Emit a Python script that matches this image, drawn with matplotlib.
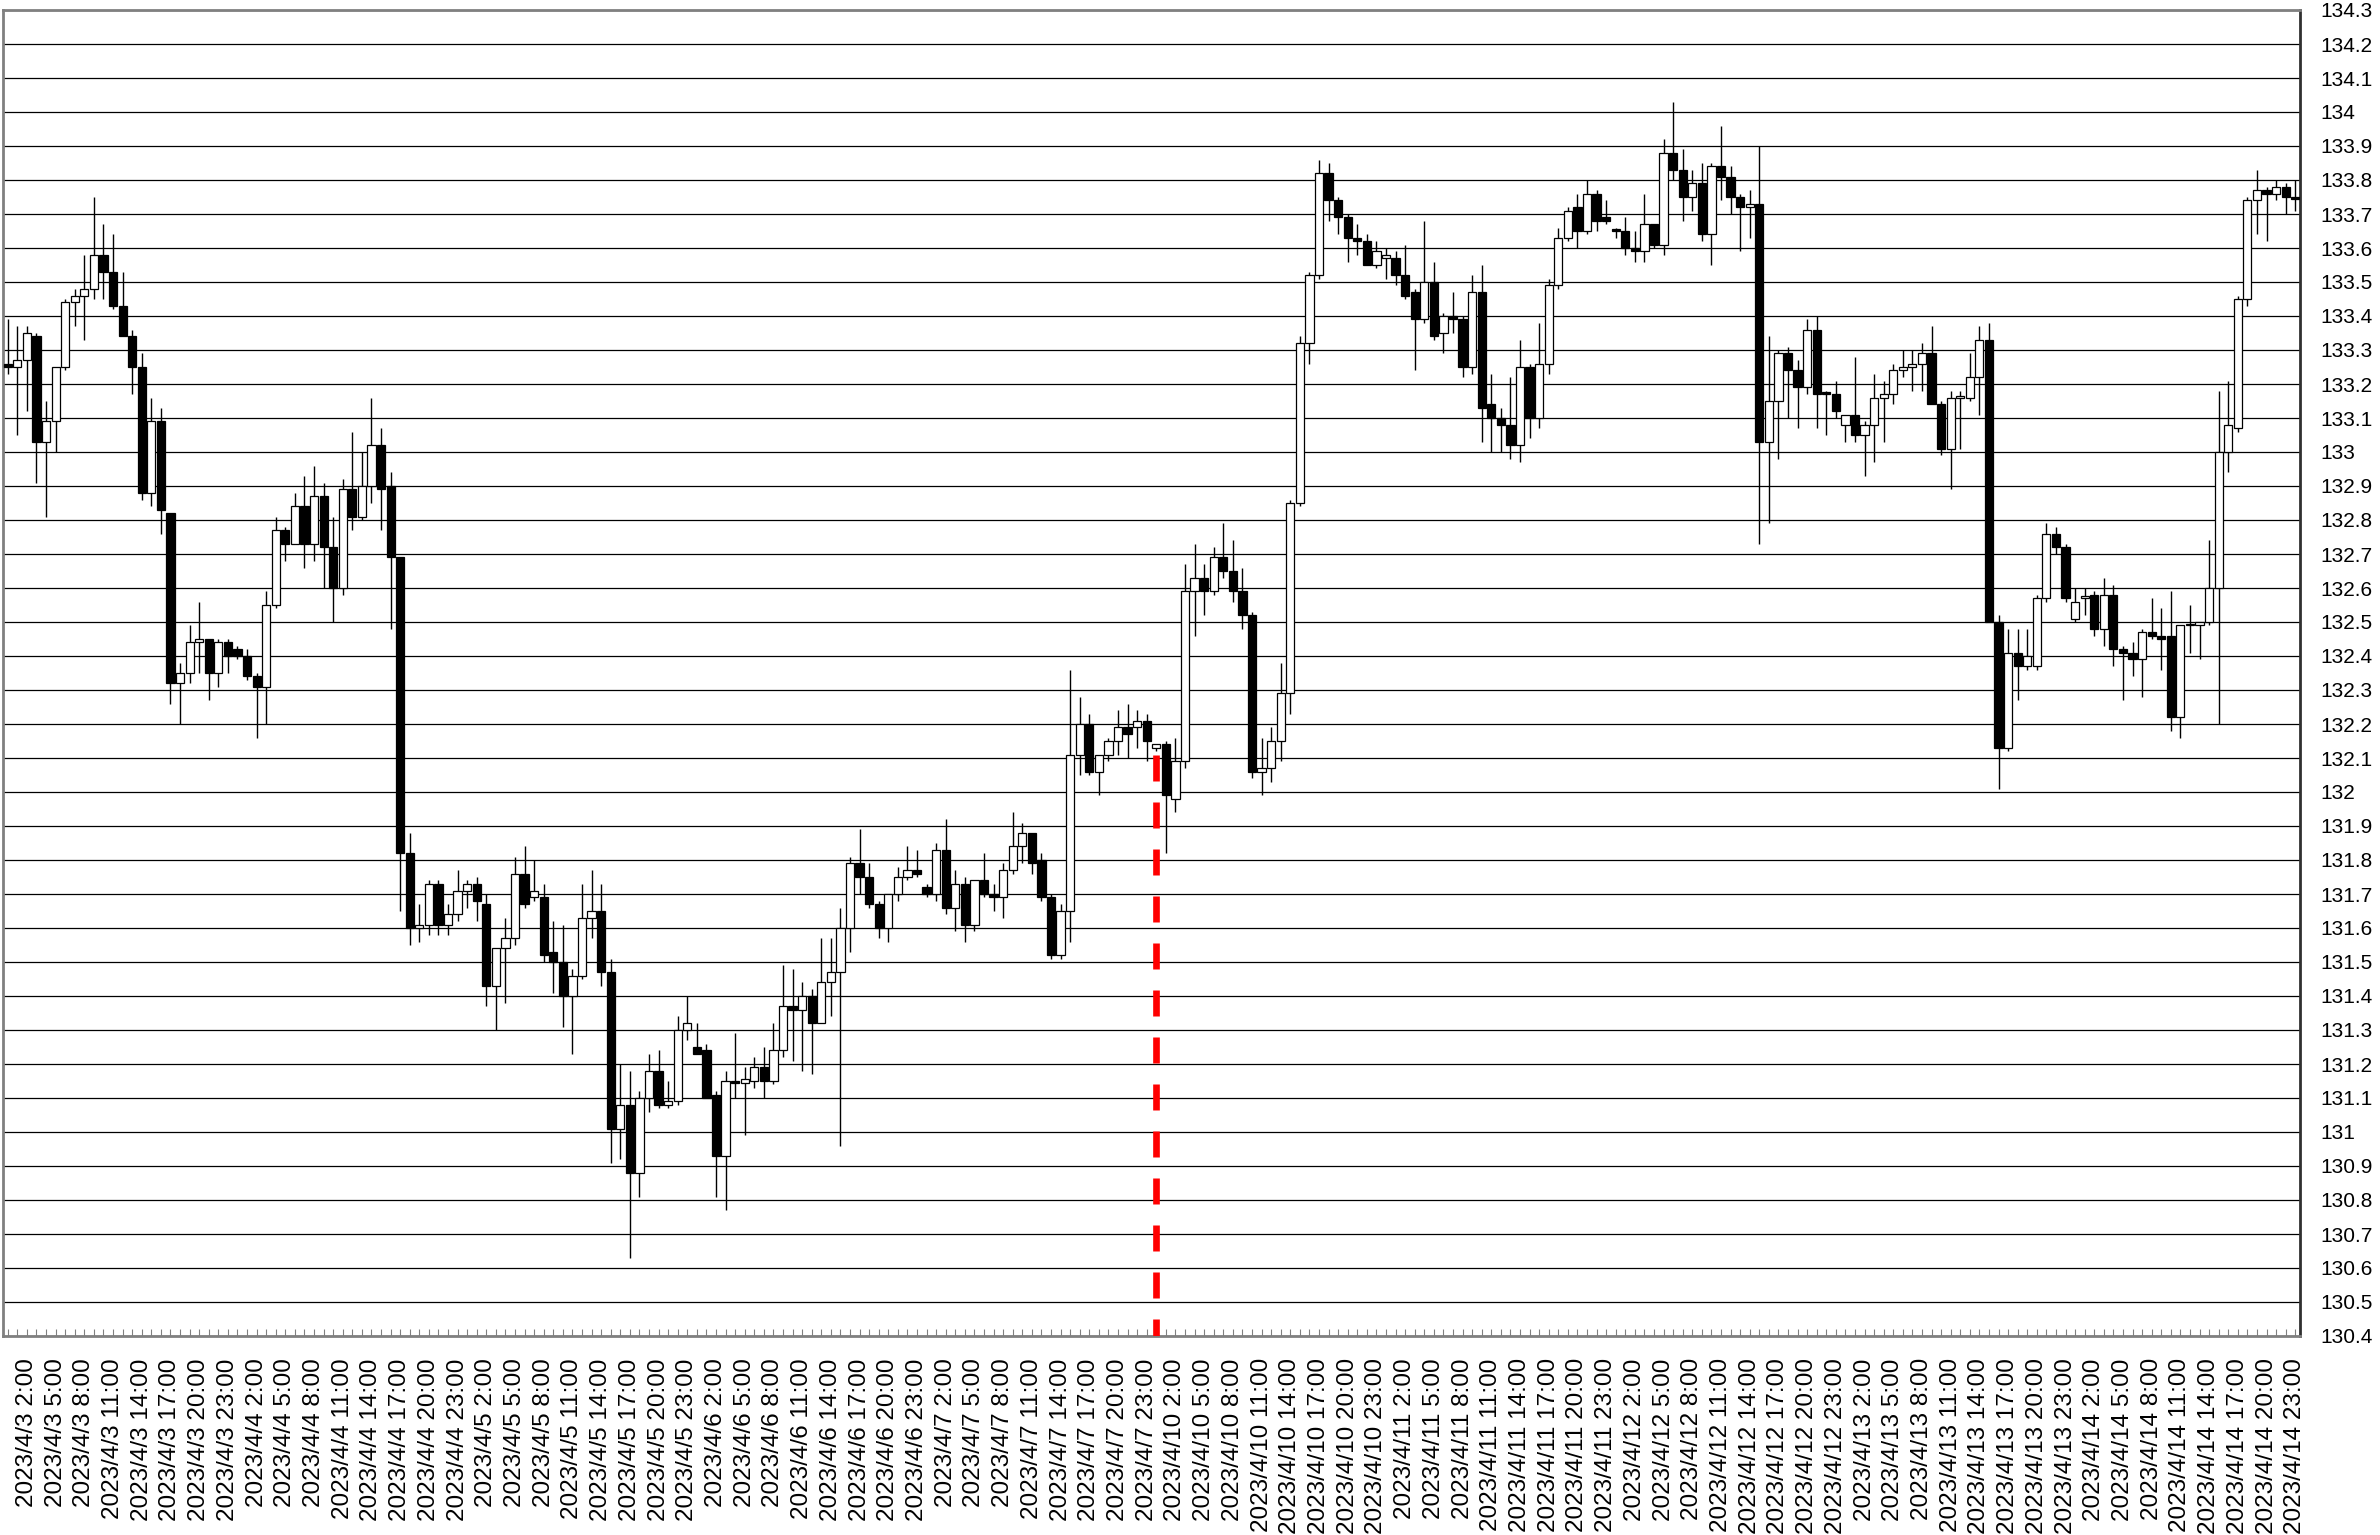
import matplotlib
matplotlib.use('Agg')
import matplotlib.pyplot as plt
import numpy as np

plt.rcParams['font.family'] = ['Liberation Sans', 'DejaVu Sans']

# hourly USD/JPY candles, 2023/4/3 0:00 .. 2023/4/14 23:00 (weekdays only)
days = ['2023/4/3', '2023/4/4', '2023/4/5', '2023/4/6', '2023/4/7',
        '2023/4/10', '2023/4/11', '2023/4/12', '2023/4/13', '2023/4/14']
hours = list(range(24))

opens = [133.26, 133.25, 133.27, 133.34, 133.03, 133.09, 133.25, 133.44, 133.46, 133.48,
         133.58, 133.53, 133.43, 133.34, 133.25, 132.88, 133.09, 132.82, 132.32, 132.35,
         132.44, 132.45, 132.35, 132.44, 132.42, 132.40, 132.34, 132.31, 132.55, 132.77,
         132.73, 132.84, 132.73, 132.87, 132.72, 132.60, 132.89, 132.81, 132.90, 133.02,
         132.90, 132.69, 131.82, 131.60, 131.61, 131.73, 131.61, 131.64, 131.71, 131.73,
         131.67, 131.43, 131.54, 131.57, 131.76, 131.69, 131.69, 131.53, 131.50, 131.40,
         131.46, 131.63, 131.65, 131.47, 131.01, 131.08, 130.88, 131.10, 131.18, 131.08,
         131.09, 131.30, 131.25, 131.24, 131.11, 130.93, 131.15, 131.145, 131.15, 131.19,
         131.15, 131.24, 131.37, 131.36, 131.40, 131.32, 131.44, 131.47, 131.60, 131.79,
         131.75, 131.67, 131.60, 131.70, 131.75, 131.77, 131.72, 131.70, 131.83, 131.66,
         131.73, 131.61, 131.74, 131.70, 131.69, 131.77, 131.84, 131.88, 131.80, 131.69,
         131.52, 131.65, 132.11, 132.20, 132.06, 132.11, 132.15, 132.19, 132.19, 132.21,
         132.13, 132.14, 131.98, 132.09, 132.59, 132.63, 132.59, 132.69, 132.65, 132.59,
         132.52, 132.06, 132.07, 132.15, 132.29, 132.85, 133.32, 133.52, 133.82, 133.74,
         133.69, 133.63, 133.62, 133.55, 133.57, 133.57, 133.52, 133.47, 133.39, 133.50,
         133.35, 133.40, 133.39, 133.25, 133.47, 133.14, 133.10, 133.08, 133.02, 133.25,
         133.10, 133.26, 133.49, 133.63, 133.72, 133.65, 133.76, 133.69, 133.655, 133.65,
         133.60, 133.59, 133.67, 133.61, 133.88, 133.83, 133.75, 133.79, 133.64, 133.84,
         133.81, 133.75, 133.72, 133.73, 133.03, 133.15, 133.29, 133.24, 133.19, 133.36,
         133.175, 133.17, 133.08, 133.11, 133.05, 133.08, 133.16, 133.17, 133.24, 133.25,
         133.26, 133.29, 133.14, 133.01, 133.16, 133.16, 133.22, 133.33, 132.50, 132.13,
         132.41, 132.37, 132.37, 132.57, 132.76, 132.72, 132.51, 132.57, 132.58, 132.48,
         132.58, 132.42, 132.41, 132.39, 132.47, 132.46, 132.46, 132.22, 132.49, 132.49,
         132.50, 132.60, 133.00, 133.07, 133.45, 133.74, 133.77, 133.76, 133.78, 133.75]

highs = [133.39, 133.37, 133.37, 133.35, 133.15, 133.25, 133.45, 133.48, 133.58, 133.75,
         133.67, 133.64, 133.53, 133.36, 133.29, 133.16, 133.13, 132.82, 132.38, 132.49,
         132.56, 132.45, 132.45, 132.45, 132.43, 132.42, 132.35, 132.59, 132.81, 132.78,
         132.88, 132.93, 132.96, 132.91, 132.81, 132.92, 133.06, 133.00, 133.16, 133.07,
         132.94, 132.69, 131.88, 131.67, 131.74, 131.74, 131.67, 131.77, 131.74, 131.75,
         131.70, 131.54, 131.63, 131.81, 131.84, 131.80, 131.73, 131.62, 131.61, 131.48,
         131.73, 131.77, 131.73, 131.51, 131.20, 131.18, 131.12, 131.23, 131.24, 131.15,
         131.34, 131.40, 131.32, 131.26, 131.12, 131.18, 131.29, 131.19, 131.22, 131.25,
         131.32, 131.49, 131.48, 131.44, 131.42, 131.57, 131.57, 131.66, 131.81, 131.89,
         131.79, 131.68, 131.70, 131.78, 131.84, 131.83, 131.73, 131.85, 131.92, 131.77,
         131.75, 131.74, 131.82, 131.73, 131.79, 131.94, 131.91, 131.88, 131.82, 131.70,
         131.67, 132.36, 132.28, 132.23, 132.11, 132.16, 132.24, 132.26, 132.24, 132.23,
         132.14, 132.15, 132.16, 132.67, 132.73, 132.67, 132.72, 132.79, 132.74, 132.66,
         132.53, 132.16, 132.19, 132.38, 132.86, 133.34, 133.53, 133.86, 133.85, 133.75,
         133.70, 133.67, 133.64, 133.62, 133.60, 133.59, 133.61, 133.48, 133.68, 133.56,
         133.41, 133.47, 133.40, 133.52, 133.55, 133.23, 133.13, 133.22, 133.33, 133.26,
         133.38, 133.51, 133.66, 133.72, 133.76, 133.80, 133.77, 133.74, 133.66, 133.69,
         133.65, 133.76, 133.67, 133.92, 134.03, 133.89, 133.83, 133.85, 133.85, 133.96,
         133.84, 133.76, 133.77, 133.90, 133.34, 133.30, 133.31, 133.27, 133.39, 133.40,
         133.18, 133.21, 133.11, 133.28, 133.09, 133.23, 133.21, 133.26, 133.30, 133.30,
         133.32, 133.37, 133.15, 133.18, 133.18, 133.29, 133.37, 133.38, 132.52, 132.48,
         132.48, 132.48, 132.58, 132.79, 132.78, 132.73, 132.60, 132.60, 132.59, 132.63,
         132.61, 132.43, 132.44, 132.48, 132.57, 132.54, 132.59, 132.49, 132.55, 132.50,
         132.74, 133.18, 133.21, 133.46, 133.75, 133.83, 133.78, 133.80, 133.79, 133.80]

lows = [133.23, 133.05, 133.12, 132.91, 132.81, 133.00, 133.24, 133.37, 133.33, 133.45,
        133.45, 133.42, 133.34, 133.17, 132.86, 132.84, 132.76, 132.26, 132.20, 132.32,
        132.35, 132.27, 132.31, 132.35, 132.39, 132.33, 132.16, 132.20, 132.54, 132.68,
        132.73, 132.66, 132.68, 132.60, 132.50, 132.58, 132.77, 132.80, 132.85, 132.77,
        132.48, 131.65, 131.55, 131.56, 131.58, 131.58, 131.58, 131.62, 131.66, 131.62,
        131.37, 131.30, 131.38, 131.55, 131.66, 131.68, 131.50, 131.41, 131.31, 131.23,
        131.45, 131.57, 131.43, 130.91, 130.92, 130.63, 130.81, 131.06, 131.07, 131.07,
        131.08, 131.27, 131.23, 131.10, 130.81, 130.77, 131.10, 130.99, 131.13, 131.10,
        131.14, 131.22, 131.21, 131.18, 131.17, 131.32, 131.34, 130.96, 131.53, 131.70,
        131.66, 131.57, 131.56, 131.68, 131.74, 131.75, 131.69, 131.68, 131.64, 131.59,
        131.56, 131.59, 131.69, 131.65, 131.63, 131.76, 131.79, 131.76, 131.68, 131.51,
        131.51, 131.56, 132.05, 132.05, 131.99, 132.09, 132.11, 132.10, 132.13, 132.09,
        132.12, 131.82, 131.94, 132.07, 132.46, 132.52, 132.58, 132.63, 132.56, 132.48,
        132.04, 131.99, 132.03, 132.09, 132.23, 132.84, 133.26, 133.51, 133.68, 133.64,
        133.56, 133.58, 133.55, 133.54, 133.51, 133.49, 133.45, 133.24, 133.38, 133.33,
        133.29, 133.35, 133.22, 133.23, 133.03, 133.00, 133.00, 132.98, 132.97, 133.04,
        133.07, 133.23, 133.48, 133.62, 133.60, 133.64, 133.65, 133.67, 133.63, 133.58,
        133.56, 133.56, 133.60, 133.58, 133.80, 133.68, 133.71, 133.62, 133.55, 133.74,
        133.70, 133.59, 133.63, 132.73, 132.79, 132.98, 133.10, 133.07, 133.17, 133.07,
        133.05, 133.10, 133.03, 133.03, 132.93, 132.97, 133.03, 133.14, 133.22, 133.18,
        133.18, 133.14, 132.99, 132.89, 133.01, 133.15, 133.11, 132.50, 132.01, 132.12,
        132.27, 132.36, 132.36, 132.56, 132.70, 132.56, 132.50, 132.52, 132.46, 132.43,
        132.37, 132.27, 132.34, 132.28, 132.45, 132.36, 132.18, 132.16, 132.41, 132.39,
        132.49, 132.20, 132.94, 133.06, 133.43, 133.64, 133.62, 133.74, 133.70, 133.71]

closes = [133.25, 133.27, 133.35, 133.03, 133.09, 133.25, 133.44, 133.46, 133.48, 133.58,
          133.53, 133.43, 133.34, 133.25, 132.88, 133.09, 132.83, 132.32, 132.35, 132.44,
          132.45, 132.35, 132.44, 132.40, 132.40, 132.34, 132.31, 132.55, 132.77, 132.73,
          132.84, 132.73, 132.87, 132.72, 132.60, 132.89, 132.81, 132.90, 133.02, 132.89,
          132.69, 131.82, 131.60, 131.61, 131.73, 131.61, 131.64, 131.71, 131.73, 131.68,
          131.43, 131.54, 131.57, 131.76, 131.67, 131.71, 131.52, 131.50, 131.40, 131.46,
          131.63, 131.65, 131.47, 131.01, 131.08, 130.88, 131.10, 131.18, 131.08, 131.09,
          131.30, 131.32, 131.23, 131.10, 130.93, 131.15, 131.145, 131.155, 131.19, 131.15,
          131.24, 131.37, 131.36, 131.40, 131.32, 131.44, 131.47, 131.60, 131.79, 131.75,
          131.67, 131.60, 131.70, 131.75, 131.77, 131.76, 131.70, 131.83, 131.66, 131.73,
          131.61, 131.74, 131.70, 131.69, 131.77, 131.84, 131.88, 131.79, 131.69, 131.52,
          131.65, 132.11, 132.20, 132.06, 132.11, 132.15, 132.19, 132.17, 132.21, 132.15,
          132.14, 131.99, 132.09, 132.59, 132.63, 132.59, 132.69, 132.65, 132.59, 132.52,
          132.06, 132.07, 132.15, 132.29, 132.85, 133.32, 133.52, 133.82, 133.74, 133.69,
          133.63, 133.62, 133.55, 133.59, 133.58, 133.52, 133.46, 133.39, 133.50, 133.34,
          133.40, 133.39, 133.25, 133.47, 133.13, 133.10, 133.08, 133.02, 133.25, 133.10,
          133.26, 133.49, 133.63, 133.71, 133.65, 133.76, 133.68, 133.68, 133.65, 133.60,
          133.59, 133.67, 133.61, 133.88, 133.83, 133.75, 133.79, 133.64, 133.84, 133.81,
          133.75, 133.72, 133.73, 133.03, 133.15, 133.29, 133.24, 133.19, 133.36, 133.17,
          133.17, 133.12, 133.11, 133.05, 133.08, 133.16, 133.17, 133.24, 133.25, 133.26,
          133.29, 133.14, 133.01, 133.16, 133.165, 133.22, 133.33, 132.50, 132.13, 132.41,
          132.37, 132.40, 132.57, 132.76, 132.72, 132.57, 132.56, 132.575, 132.48, 132.58,
          132.42, 132.41, 132.39, 132.47, 132.46, 132.45, 132.22, 132.49, 132.495, 132.50,
          132.60, 133.00, 133.08, 133.45, 133.74, 133.77, 133.76, 133.78, 133.75, 133.745]

week_start = 120      # 2023/4/10 0:00
marker_top = 132.11
y_min, y_max = 130.4, 134.3

labels = [f'{d} {h}:00' for d in days for h in hours]

fig = plt.figure(figsize=(23.8, 15.35), dpi=100)
ax = fig.add_axes([3 / 2380, 1 - 1336 / 1535, 2297 / 2380, 1326 / 1535])

x = np.arange(len(opens))
o = np.array(opens)
c = np.array(closes)
up = c >= o

ax.vlines(x, lows, highs, color='black', lw=1.0, zorder=2)
body_bottom = np.minimum(o, c)
body_height = np.maximum(np.abs(c - o), 0.004)
ax.bar(x, body_height, bottom=body_bottom, width=0.86,
       color=np.where(up, 'white', 'black'), edgecolor='black', linewidth=0.9, zorder=3)

ax.plot([week_start, week_start], [marker_top, y_min], color='red', lw=4.8,
        linestyle=(0, (3.9, 3.15)), dash_capstyle='butt', zorder=4)

ax.set_xlim(-0.5, len(opens) - 0.5)
ax.set_ylim(y_min, y_max)

yticks = np.round(np.arange(y_min, y_max + 0.01, 0.1), 1)
ax.set_yticks(yticks)
ax.set_yticklabels([f'{v:g}' for v in yticks])
ax.yaxis.tick_right()
ax.tick_params(axis='y', direction='in', length=0, pad=15, labelsize=15)
ax.grid(axis='y', color='black', lw=0.9)
ax.set_axisbelow(True)

ax.set_xticks(x)
ax.set_xticklabels([lab if i % 3 == 2 else '' for i, lab in enumerate(labels)],
                   rotation=90, fontsize=17.5)
ax.tick_params(axis='x', direction='in', length=5, color='#808080', pad=16)

for side in ['left', 'bottom', 'top']:
    ax.spines[side].set_color('#808080')
    ax.spines[side].set_linewidth(2)
ax.spines['right'].set_color('#303030')
ax.spines['right'].set_linewidth(2)

fig.savefig('out.png', dpi=100)
